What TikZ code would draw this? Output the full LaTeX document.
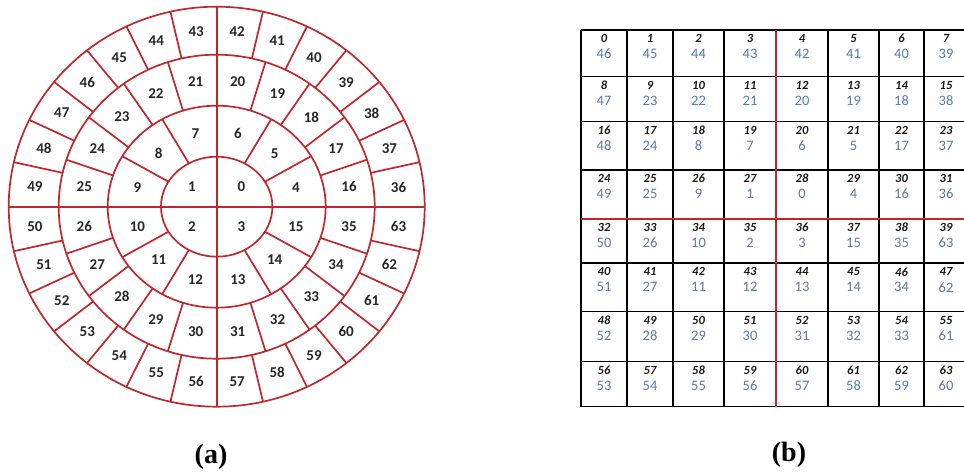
\documentclass[tikz,border=0pt]{standalone}
\usepackage{fontspec}
\setmainfont{Carlito}
\newfontfamily\capfont{Liberation Serif}
\usepackage{tikz}
\usetikzlibrary{positioning}
\usepackage{xcolor}

\definecolor{ringred}{RGB}{192,38,44}
\definecolor{valblue}{RGB}{88,122,170}

\tikzset{
  ring/.style={draw=ringred, line width=1.7pt},
  seclabel/.style={font=\fontsize{15}{16}\selectfont\bfseries, text=black!85, inner sep=0pt},
  gridline/.style={draw=black, line width=1.6pt},
  idxlabel/.style={font=\fontsize{12.5}{13}\selectfont\bfseries\itshape, text=black!90, inner sep=0pt},
  vallabel/.style={font=\fontsize{14.5}{16}\selectfont, text=valblue, inner sep=0pt},
  caption/.style={font=\capfont\fontsize{28}{30}\selectfont\bfseries, inner sep=0pt}
}

\begin{document}
\begin{tikzpicture}[x=1pt, y=1pt]
    \useasboundingbox (0,0) rectangle (964,473);

    % (a) The rings
    \begin{scope}[shift={(216.7,266.3)}]
        % Circles
        \draw[ring] (0,0) ellipse [x radius=55.7pt, y radius=50pt];
        \draw[ring] (0,0) ellipse [x radius=109pt, y radius=101pt];
        \draw[ring] (0,0) ellipse [x radius=158pt, y radius=152pt];
        \draw[ring] (0,0) ellipse [x radius=208pt, y radius=200pt];

        % Axes
        \draw[ring] (-208,0) -- (208,0);
        \draw[ring] (0,-200) -- (0,200);

        % Spokes of ring 2 (12 parts)
        \foreach \k in {0,...,11} {
            \pgfmathsetmacro\t{\k*30}
            \draw[ring] ({55.7*cos(\t)},{50*sin(\t)}) -- ({109*cos(\t)},{101*sin(\t)});
        }
        % Spokes of ring 3 (20 parts)
        \foreach \k in {0,...,19} {
            \pgfmathsetmacro\t{\k*18}
            \draw[ring] ({109*cos(\t)},{101*sin(\t)}) -- ({158*cos(\t)},{152*sin(\t)});
        }
        % Spokes of ring 4 (28 parts)
        \foreach \k in {0,...,27} {
            \pgfmathsetmacro\t{\k*90/7}
            \draw[ring] ({158*cos(\t)},{152*sin(\t)}) -- ({208*cos(\t)},{200*sin(\t)});
        }

        % Numbers, counter-clockwise from the right
        \foreach \k in {0,...,3} {
            \pgfmathsetmacro\t{45+\k*90}
            \node[seclabel] (s\k) at ({35*cos(\t)},{28*sin(\t)}) {\k};
        }
        \foreach \k in {0,...,11} {
            \pgfmathsetmacro\t{15+\k*30}
            \pgfmathtruncatemacro\n{4+\k}
            \node[seclabel] (s\n) at ({82*cos(\t)},{75.5*sin(\t)}) {\n};
        }
        \foreach \k in {0,...,19} {
            \pgfmathsetmacro\t{9+\k*18}
            \pgfmathtruncatemacro\n{16+\k}
            \node[seclabel] (s\n) at ({134*cos(\t)},{127*sin(\t)}) {\n};
        }
        \foreach \k in {0,...,27} {
            \pgfmathsetmacro\t{(\k+0.5)*90/7}
            \pgfmathtruncatemacro\n{36+\k}
            \node[seclabel] (s\n) at ({183*cos(\t)},{176*sin(\t)}) {\n};
        }
    \end{scope}

    % (b) The 8x8 table
    \def\rowy{443,396.3,351.3,303,254,209.7,161.3,111.3,66.3}

    % Grid lines
    \foreach \y in \rowy {
        \draw[gridline] (581,\y) -- (964,\y);
    }
    \foreach \x in {581,627,673,724,828,879,924} {
        \draw[gridline] (\x,443) -- (\x,66.3);
    }
    \draw[ring] (776,443) -- (776,66.3);
    \draw[ring] (581,254) -- (964,254);

    % Cell entries
    \foreach \vals [count=\r from 0] in {
        {46,45,44,43,42,41,40,39},
        {47,23,22,21,20,19,18,38},
        {48,24,8,7,6,5,17,37},
        {49,25,9,1,0,4,16,36},
        {50,26,10,2,3,15,35,63},
        {51,27,11,12,13,14,34,62},
        {52,28,29,30,31,32,33,61},
        {53,54,55,56,57,58,59,60}} {
        \pgfmathsetmacro\top{{443,396.3,351.3,303,254,209.7,161.3,111.3}[\r]}
        \foreach \v [count=\c from 0] in \vals {
            \pgfmathsetmacro\cx{{604,650,698.5,750,802,853.5,901.5,946}[\c]}
            \pgfmathtruncatemacro\n{8*\r+\c}
            \node[idxlabel] (idx\n) at (\cx,\top-8.5) {\n};
            \node[vallabel] (val\n) at (\cx,\top-24) {\v};
        }
    }

    % Captions
    \node[caption] (capa) at (211,16) {(a)};
    \node[caption] (capb) at (789,18) {(b)};
\end{tikzpicture}
\end{document}
